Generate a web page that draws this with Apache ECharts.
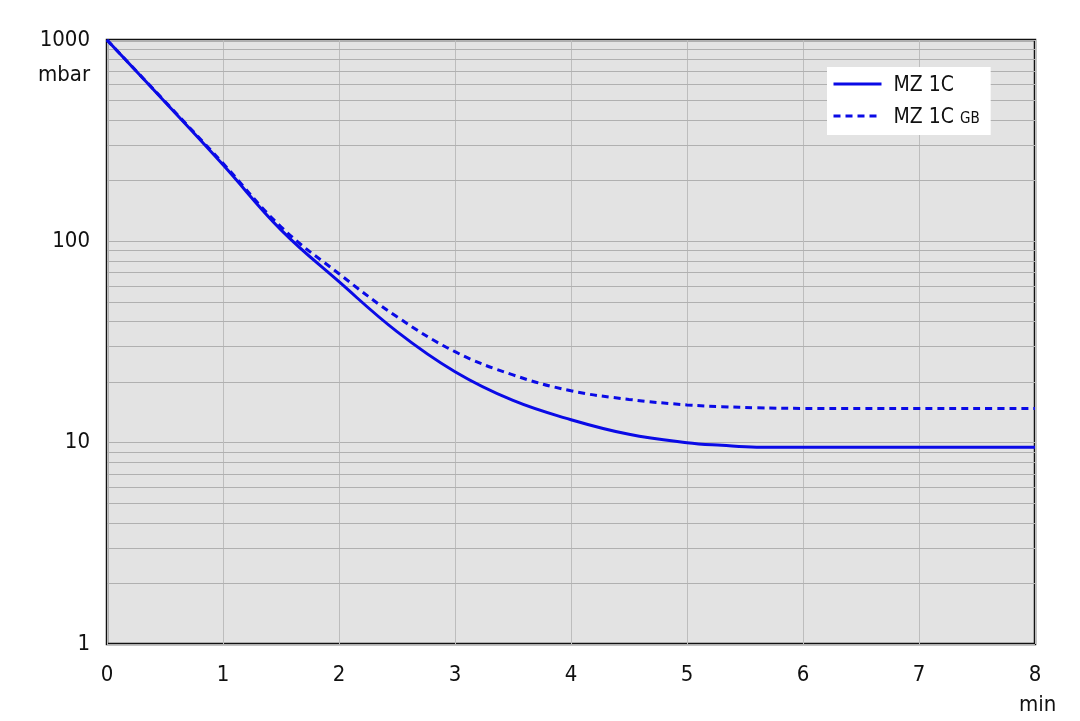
<!DOCTYPE html>
<html>
<head>
<meta charset="utf-8">
<script src="https://cdn.jsdelivr.net/npm/echarts@6/dist/echarts.min.js"></script>
<style>
html,body{margin:0;padding:0;background:#fff;}
#chart{width:1080px;height:721px;}
</style>
</head>
<body>
<div id="chart"></div>
<script>
const timeMin = [0, 0.5, 1, 1.5, 2, 2.5, 3, 3.5, 4, 4.5, 5, 5.3, 5.6, 6, 6.5, 7, 7.5, 8];
const mz1c = [1000, 492, 240, 114, 63, 35.6, 22.5, 16.2, 13.0, 11.0, 10.0, 9.7, 9.5, 9.5, 9.5, 9.5, 9.5, 9.5];
const mz1cGB = [1000, 495, 244, 118, 69, 42.2, 28.3, 21.7, 18.1, 16.4, 15.4, 15.1, 14.9, 14.8, 14.8, 14.8, 14.8, 14.8];
const xTicks = [0, 1, 2, 3, 4, 5, 6, 7, 8];
const yTicks = [1, 10, 100, 1000];
const minorGrid = [2,3,4,5,6,7,8,9,20,30,40,50,60,70,80,90,200,300,400,500,600,700,800,900];
const seriesNames = ['MZ 1C', 'MZ 1C GB'];

const FONT = '"Liberation Sans Narrow","DejaVu Sans Condensed","Noto Sans",sans-serif';
const BLUE = '#0a0ae6';

const chart = echarts.init(document.getElementById('chart'), null, {renderer: 'canvas'});
chart.setOption({
  animation: false,
  backgroundColor: '#ffffff',
  grid: {
    left: 107, right: 45, top: 40, bottom: 77,
    show: true, backgroundColor: '#e3e3e3', borderColor: '#111', borderWidth: 2.5
  },
  legend: {
    left: 827, top: 67,
    orient: 'vertical',
    backgroundColor: '#ffffff',
    padding: [8, 11, 7, 5],
    itemGap: 11,
    itemWidth: 48, itemHeight: 16,
    itemStyle: {opacity: 0},
    lineStyle: {width: 3},
    textStyle: {fontFamily: FONT, fontSize: 21, color: '#111', padding: [0, 0, 0, 7],
      rich: {
        m: {fontFamily: FONT, fontSize: 21, color: '#111', lineHeight: 24, verticalAlign: 'bottom'},
        s: {fontFamily: FONT, fontSize: 15, color: '#111', lineHeight: 24, verticalAlign: 'bottom', padding: [0, 0, 1, 0]}
      }},
    formatter: function (name) {
      return name === seriesNames[1] ? '{m|MZ 1C }{s|GB}' : '{m|' + name + '}';
    },
    data: seriesNames
  },
  xAxis: {
    type: 'value', min: 0, max: 8, interval: 1,
    axisLine: {show: false}, axisTick: {show: false},
    splitLine: {show: true, lineStyle: {color: '#bdbdbd', width: 1}},
    axisLabel: {fontFamily: FONT, fontSize: 22, color: '#111', margin: 20,
      formatter: function (v) { return xTicks.indexOf(v) >= 0 ? String(v) : ''; }}
  },
  yAxis: {
    type: 'log', logBase: 10, min: 1, max: 1000,
    axisLine: {show: false}, axisTick: {show: false},
    splitLine: {show: true, lineStyle: {color: '#b0b0b0', width: 1}},
    axisLabel: {fontFamily: FONT, fontSize: 22, color: '#111', margin: 17,
      formatter: function (v) { return yTicks.indexOf(Math.round(v)) >= 0 ? String(Math.round(v)) : ''; }}
  },
  graphic: [
    {type: 'text', left: 38, top: 64, style: {text: 'mbar', font: '22px ' + FONT, fill: '#111'}},
    {type: 'text', left: 1019, top: 694, style: {text: 'min', font: '22px ' + FONT, fill: '#111'}}
  ],
  series: [
    {
      name: seriesNames[0], type: 'line', symbol: 'none', smooth: 0.4,
      data: timeMin.map((t, i) => [t, mz1c[i]]),
      lineStyle: {color: BLUE, width: 3, type: 'solid'},
      itemStyle: {color: BLUE},
      z: 5,
      markLine: {
        silent: true, symbol: ['none', 'none'], label: {show: false},
        lineStyle: {color: '#b0b0b0', width: 1, type: 'solid'},
        emphasis: {disabled: true},
        data: minorGrid.map(v => ({yAxis: v})),
        z: 1
      }
    },
    {
      name: seriesNames[1], type: 'line', symbol: 'none', smooth: 0.4,
      data: timeMin.map((t, i) => [t, mz1cGB[i]]),
      lineStyle: {color: BLUE, width: 3, type: [7, 5]},
      itemStyle: {color: BLUE},
      z: 4
    }
  ]
});
</script>
</body>
</html>
